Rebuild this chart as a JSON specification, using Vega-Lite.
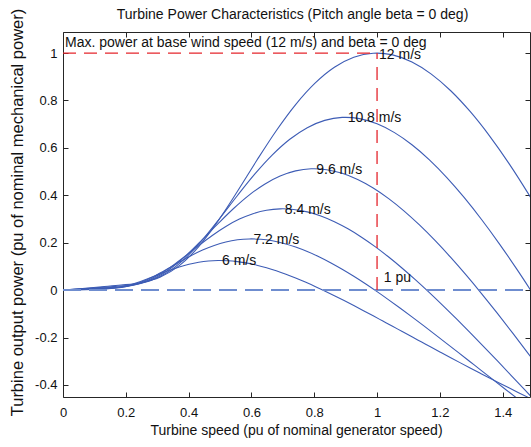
{
  "$schema": "https://vega.github.io/schema/vega-lite/v6.json",
  "width": 467,
  "height": 365,
  "autosize": "none",
  "padding": {"left": 63, "top": 32, "right": 1, "bottom": 50},
  "background": "white",
  "config": {
    "view": {"stroke": null},
    "font": "Liberation Sans",
    "axis": {"grid": false, "domainColor": "#262626", "tickColor": "#262626", "tickSize": -5, "labelFlush": false, "labelColor": "#111111", "labelFont": "Liberation Sans", "labelFontSize": 13, "titleFont": "Liberation Sans", "titleFontWeight": "normal", "titleColor": "#111111"}
  },
  "datasets": {
    "curves": [
      {"v":"12","w":0,"p":0},{"v":"12","w":0.0617,"p":0.0071},{"v":"12","w":0.1235,"p":0.0142},{"v":"12","w":0.1852,"p":0.0214},{"v":"12","w":0.2469,"p":0.0314},{"v":"12","w":0.3086,"p":0.0543},{"v":"12","w":0.3704,"p":0.1032},{"v":"12","w":0.4321,"p":0.1838},{"v":"12","w":0.4938,"p":0.292},{"v":"12","w":0.5556,"p":0.4173},{"v":"12","w":0.6173,"p":0.5477},{"v":"12","w":0.679,"p":0.6723},{"v":"12","w":0.7407,"p":0.7827},{"v":"12","w":0.8025,"p":0.8731},{"v":"12","w":0.8642,"p":0.9402},{"v":"12","w":0.9259,"p":0.9824},{"v":"12","w":0.9877,"p":0.9995},{"v":"12","w":1,"p":1},{"v":"12","w":1.0494,"p":0.9925},{"v":"12","w":1.1111,"p":0.9625},{"v":"12","w":1.1728,"p":0.9114},{"v":"12","w":1.2346,"p":0.8412},{"v":"12","w":1.2963,"p":0.7537},{"v":"12","w":1.358,"p":0.651},{"v":"12","w":1.4198,"p":0.5349},{"v":"12","w":1.4815,"p":0.4071},{"v":"12","w":1.5432,"p":0.2693},
      {"v":"10.8","w":0,"p":0},{"v":"10.8","w":0.0556,"p":0.0052},{"v":"10.8","w":0.1111,"p":0.0103},{"v":"10.8","w":0.1667,"p":0.0156},{"v":"10.8","w":0.2222,"p":0.0229},{"v":"10.8","w":0.2778,"p":0.0396},{"v":"10.8","w":0.3333,"p":0.0752},{"v":"10.8","w":0.3889,"p":0.134},{"v":"10.8","w":0.4444,"p":0.2129},{"v":"10.8","w":0.5,"p":0.3042},{"v":"10.8","w":0.5556,"p":0.3993},{"v":"10.8","w":0.6111,"p":0.4901},{"v":"10.8","w":0.6667,"p":0.5706},{"v":"10.8","w":0.7222,"p":0.6365},{"v":"10.8","w":0.7778,"p":0.6854},{"v":"10.8","w":0.8333,"p":0.7162},{"v":"10.8","w":0.8889,"p":0.7287},{"v":"10.8","w":0.9,"p":0.729},{"v":"10.8","w":0.9444,"p":0.7235},{"v":"10.8","w":1,"p":0.7016},{"v":"10.8","w":1.0556,"p":0.6644},{"v":"10.8","w":1.1111,"p":0.6132},{"v":"10.8","w":1.1667,"p":0.5494},{"v":"10.8","w":1.2222,"p":0.4746},{"v":"10.8","w":1.2778,"p":0.3899},{"v":"10.8","w":1.3333,"p":0.2968},{"v":"10.8","w":1.3889,"p":0.1963},{"v":"10.8","w":1.4444,"p":0.0896},{"v":"10.8","w":1.5,"p":-0.0223},
      {"v":"9.6","w":0,"p":0},{"v":"9.6","w":0.0494,"p":0.0036},{"v":"9.6","w":0.0988,"p":0.0073},{"v":"9.6","w":0.1481,"p":0.0109},{"v":"9.6","w":0.1975,"p":0.0161},{"v":"9.6","w":0.2469,"p":0.0278},{"v":"9.6","w":0.2963,"p":0.0528},{"v":"9.6","w":0.3457,"p":0.0941},{"v":"9.6","w":0.3951,"p":0.1495},{"v":"9.6","w":0.4444,"p":0.2137},{"v":"9.6","w":0.4938,"p":0.2804},{"v":"9.6","w":0.5432,"p":0.3442},{"v":"9.6","w":0.5926,"p":0.4007},{"v":"9.6","w":0.642,"p":0.447},{"v":"9.6","w":0.6914,"p":0.4814},{"v":"9.6","w":0.7407,"p":0.503},{"v":"9.6","w":0.7901,"p":0.5118},{"v":"9.6","w":0.8,"p":0.512},{"v":"9.6","w":0.8395,"p":0.5081},{"v":"9.6","w":0.8889,"p":0.4928},{"v":"9.6","w":0.9383,"p":0.4666},{"v":"9.6","w":0.9877,"p":0.4307},{"v":"9.6","w":1.037,"p":0.3859},{"v":"9.6","w":1.0864,"p":0.3333},{"v":"9.6","w":1.1358,"p":0.2738},{"v":"9.6","w":1.1852,"p":0.2084},{"v":"9.6","w":1.2346,"p":0.1379},{"v":"9.6","w":1.284,"p":0.0629},{"v":"9.6","w":1.3333,"p":-0.0157},{"v":"9.6","w":1.3827,"p":-0.0974},{"v":"9.6","w":1.4321,"p":-0.1816},{"v":"9.6","w":1.4815,"p":-0.2679},{"v":"9.6","w":1.5309,"p":-0.3558},
      {"v":"8.4","w":0,"p":0},{"v":"8.4","w":0.0432,"p":0.0024},{"v":"8.4","w":0.0864,"p":0.0049},{"v":"8.4","w":0.1296,"p":0.0073},{"v":"8.4","w":0.1728,"p":0.0108},{"v":"8.4","w":0.216,"p":0.0186},{"v":"8.4","w":0.2593,"p":0.0354},{"v":"8.4","w":0.3025,"p":0.0631},{"v":"8.4","w":0.3457,"p":0.1002},{"v":"8.4","w":0.3889,"p":0.1431},{"v":"8.4","w":0.4321,"p":0.1879},{"v":"8.4","w":0.4753,"p":0.2306},{"v":"8.4","w":0.5185,"p":0.2685},{"v":"8.4","w":0.5617,"p":0.2995},{"v":"8.4","w":0.6049,"p":0.3225},{"v":"8.4","w":0.6481,"p":0.337},{"v":"8.4","w":0.6914,"p":0.3428},{"v":"8.4","w":0.7,"p":0.343},{"v":"8.4","w":0.7346,"p":0.3404},{"v":"8.4","w":0.7778,"p":0.3301},{"v":"8.4","w":0.821,"p":0.3126},{"v":"8.4","w":0.8642,"p":0.2885},{"v":"8.4","w":0.9074,"p":0.2585},{"v":"8.4","w":0.9506,"p":0.2233},{"v":"8.4","w":0.9938,"p":0.1835},{"v":"8.4","w":1.037,"p":0.1396},{"v":"8.4","w":1.0802,"p":0.0924},{"v":"8.4","w":1.1235,"p":0.0422},{"v":"8.4","w":1.1667,"p":-0.0105},{"v":"8.4","w":1.2099,"p":-0.0652},{"v":"8.4","w":1.2531,"p":-0.1217},{"v":"8.4","w":1.2963,"p":-0.1795},{"v":"8.4","w":1.3395,"p":-0.2383},{"v":"8.4","w":1.3827,"p":-0.298},{"v":"8.4","w":1.4259,"p":-0.3583},{"v":"8.4","w":1.4691,"p":-0.419},{"v":"8.4","w":1.5123,"p":-0.4799},
      {"v":"7.2","w":0,"p":0},{"v":"7.2","w":0.037,"p":0.0015},{"v":"7.2","w":0.0741,"p":0.0031},{"v":"7.2","w":0.1111,"p":0.0046},{"v":"7.2","w":0.1481,"p":0.0068},{"v":"7.2","w":0.1852,"p":0.0117},{"v":"7.2","w":0.2222,"p":0.0223},{"v":"7.2","w":0.2593,"p":0.0397},{"v":"7.2","w":0.2963,"p":0.0631},{"v":"7.2","w":0.3333,"p":0.0901},{"v":"7.2","w":0.3704,"p":0.1183},{"v":"7.2","w":0.4074,"p":0.1452},{"v":"7.2","w":0.4444,"p":0.1691},{"v":"7.2","w":0.4815,"p":0.1886},{"v":"7.2","w":0.5185,"p":0.2031},{"v":"7.2","w":0.5556,"p":0.2122},{"v":"7.2","w":0.5926,"p":0.2159},{"v":"7.2","w":0.6,"p":0.216},{"v":"7.2","w":0.6296,"p":0.2144},{"v":"7.2","w":0.6667,"p":0.2079},{"v":"7.2","w":0.7037,"p":0.1969},{"v":"7.2","w":0.7407,"p":0.1817},{"v":"7.2","w":0.7778,"p":0.1628},{"v":"7.2","w":0.8148,"p":0.1406},{"v":"7.2","w":0.8519,"p":0.1155},{"v":"7.2","w":0.8889,"p":0.0879},{"v":"7.2","w":0.9259,"p":0.0582},{"v":"7.2","w":0.963,"p":0.0266},{"v":"7.2","w":1,"p":-0.0066},{"v":"7.2","w":1.037,"p":-0.0411},{"v":"7.2","w":1.0741,"p":-0.0766},{"v":"7.2","w":1.1111,"p":-0.113},{"v":"7.2","w":1.1481,"p":-0.1501},{"v":"7.2","w":1.1852,"p":-0.1877},{"v":"7.2","w":1.2222,"p":-0.2256},{"v":"7.2","w":1.2593,"p":-0.2638},{"v":"7.2","w":1.2963,"p":-0.3022},{"v":"7.2","w":1.3333,"p":-0.3406},{"v":"7.2","w":1.3704,"p":-0.3789},{"v":"7.2","w":1.4074,"p":-0.4171},{"v":"7.2","w":1.4444,"p":-0.4551},{"v":"7.2","w":1.4815,"p":-0.4929},
      {"v":"6","w":0,"p":0},{"v":"6","w":0.0309,"p":0.0009},{"v":"6","w":0.0617,"p":0.0018},{"v":"6","w":0.0926,"p":0.0027},{"v":"6","w":0.1235,"p":0.0039},{"v":"6","w":0.1543,"p":0.0068},{"v":"6","w":0.1852,"p":0.0129},{"v":"6","w":0.216,"p":0.023},{"v":"6","w":0.2469,"p":0.0365},{"v":"6","w":0.2778,"p":0.0522},{"v":"6","w":0.3086,"p":0.0685},{"v":"6","w":0.3395,"p":0.084},{"v":"6","w":0.3704,"p":0.0978},{"v":"6","w":0.4012,"p":0.1091},{"v":"6","w":0.4321,"p":0.1175},{"v":"6","w":0.463,"p":0.1228},{"v":"6","w":0.4938,"p":0.1249},{"v":"6","w":0.5,"p":0.125},{"v":"6","w":0.5247,"p":0.1241},{"v":"6","w":0.5556,"p":0.1203},{"v":"6","w":0.5864,"p":0.1139},{"v":"6","w":0.6173,"p":0.1051},{"v":"6","w":0.6481,"p":0.0942},{"v":"6","w":0.679,"p":0.0814},{"v":"6","w":0.7099,"p":0.0669},{"v":"6","w":0.7407,"p":0.0509},{"v":"6","w":0.7716,"p":0.0337},{"v":"6","w":0.8025,"p":0.0154},{"v":"6","w":0.8333,"p":-0.0038},{"v":"6","w":0.8642,"p":-0.0238},{"v":"6","w":0.8951,"p":-0.0443},{"v":"6","w":0.9259,"p":-0.0654},{"v":"6","w":0.9568,"p":-0.0869},{"v":"6","w":0.9877,"p":-0.1086},{"v":"6","w":1.0185,"p":-0.1306},{"v":"6","w":1.0494,"p":-0.1527},{"v":"6","w":1.0802,"p":-0.1749},{"v":"6","w":1.1111,"p":-0.1971},{"v":"6","w":1.142,"p":-0.2193},{"v":"6","w":1.1728,"p":-0.2414},{"v":"6","w":1.2037,"p":-0.2634},{"v":"6","w":1.2346,"p":-0.2853},{"v":"6","w":1.2654,"p":-0.307},{"v":"6","w":1.2963,"p":-0.3285},{"v":"6","w":1.3272,"p":-0.3498},{"v":"6","w":1.358,"p":-0.3709},{"v":"6","w":1.3889,"p":-0.3918},{"v":"6","w":1.4198,"p":-0.4124},{"v":"6","w":1.4506,"p":-0.4327},{"v":"6","w":1.4815,"p":-0.4528},{"v":"6","w":1.5123,"p":-0.4726}
    ],
    "redlines": [
      {"x1": 0, "x2": 1, "y1": 1, "y2": 1},
      {"x1": 1, "x2": 1, "y1": 0, "y2": 1}
    ],
    "zeroline": [
      {"x1": 0, "x2": 1.5, "y1": 0, "y2": 0}
    ],
    "labels": [
      {"t": "12 m/s", "w": 1.0, "p": 0.99},
      {"t": "10.8 m/s", "w": 0.9, "p": 0.725},
      {"t": "9.6 m/s", "w": 0.8, "p": 0.508},
      {"t": "8.4 m/s", "w": 0.7, "p": 0.34},
      {"t": "7.2 m/s", "w": 0.6, "p": 0.213},
      {"t": "6 m/s", "w": 0.5, "p": 0.122},
      {"t": "1 pu", "w": 1.015, "p": 0.052},
      {"t": "Max. power at base wind speed (12 m/s) and beta = 0 deg", "w": 0, "p": 1.042}
    ],
    "frame": [
      {"w": 0, "p": 0}
    ]
  },
  "resolve": {"axis": {"x": "independent", "y": "independent"}},
  "layer": [
    {
      "data": {"name": "frame"},
      "mark": {"type": "point", "opacity": 0},
      "encoding": {
        "x": {"field": "w", "type": "quantitative", "scale": {"domain": [0, 1.487], "nice": false, "zero": false},
          "axis": {"orient": "bottom", "values": [0, 0.2, 0.4, 0.6, 0.8, 1, 1.2, 1.4], "labelExpr": "'' + datum.value", "labelPadding": 14, "title": "Turbine speed (pu of nominal generator speed)", "titleFontSize": 14, "titleX": 233, "titleY": 37, "titleAnchor": null, "titleAlign": "center", "titleBaseline": "alphabetic"}},
        "y": {"field": "p", "type": "quantitative", "scale": {"domain": [-0.451, 1.089], "nice": false, "zero": false},
          "axis": {"orient": "left", "values": [-0.4, -0.2, 0, 0.2, 0.4, 0.6, 0.8, 1], "labelExpr": "'' + datum.value", "labelPadding": 11, "title": "Turbine output power (pu of nominal mechanical power)", "titleFontSize": 16.5, "titleX": -41, "titleY": 180, "titleAngle": -90, "titleAlign": "center", "titleBaseline": "alphabetic"}}
      }
    },
    {
      "data": {"name": "frame"},
      "mark": {"type": "point", "opacity": 0},
      "encoding": {
        "x": {"field": "w", "type": "quantitative", "axis": {"orient": "top", "values": [0, 0.2, 0.4, 0.6, 0.8, 1, 1.2, 1.4], "labels": false, "title": "Turbine Power Characteristics (Pitch angle beta = 0 deg)", "titleFontSize": 14, "titleX": 229, "titleY": -14, "titleAnchor": null, "titleAlign": "center", "titleBaseline": "alphabetic"}},
        "y": {"field": "p", "type": "quantitative", "axis": {"orient": "right", "values": [-0.4, -0.2, 0, 0.2, 0.4, 0.6, 0.8, 1], "labels": false, "title": null}}
      }
    },
    {
      "data": {"name": "curves"},
      "mark": {"type": "line", "color": "#3d5cb5", "strokeWidth": 1.1, "interpolate": "monotone", "clip": true},
      "encoding": {
        "x": {"field": "w", "type": "quantitative", "axis": null},
        "y": {"field": "p", "type": "quantitative", "axis": null},
        "detail": {"field": "v", "type": "nominal"}
      }
    },
    {
      "data": {"name": "zeroline"},
      "mark": {"type": "rule", "color": "#6f8dcf", "strokeWidth": 2, "strokeDash": [18, 8], "clip": true},
      "encoding": {
        "x": {"field": "x1", "type": "quantitative", "axis": null},
        "x2": {"field": "x2"},
        "y": {"field": "y1", "type": "quantitative", "axis": null},
        "y2": {"field": "y2"}
      }
    },
    {
      "data": {"name": "redlines"},
      "mark": {"type": "rule", "color": "#e5262d", "strokeWidth": 1.3, "strokeDash": [13, 8], "clip": true},
      "encoding": {
        "x": {"field": "x1", "type": "quantitative", "axis": null},
        "x2": {"field": "x2"},
        "y": {"field": "y1", "type": "quantitative", "axis": null},
        "y2": {"field": "y2"}
      }
    },
    {
      "data": {"name": "labels"},
      "mark": {"type": "text", "align": "left", "baseline": "middle", "dx": 2, "fontSize": 14, "font": "Liberation Sans", "color": "#111111"},
      "encoding": {
        "x": {"field": "w", "type": "quantitative", "axis": null},
        "y": {"field": "p", "type": "quantitative", "axis": null},
        "text": {"field": "t", "type": "nominal"}
      }
    }
  ]
}
